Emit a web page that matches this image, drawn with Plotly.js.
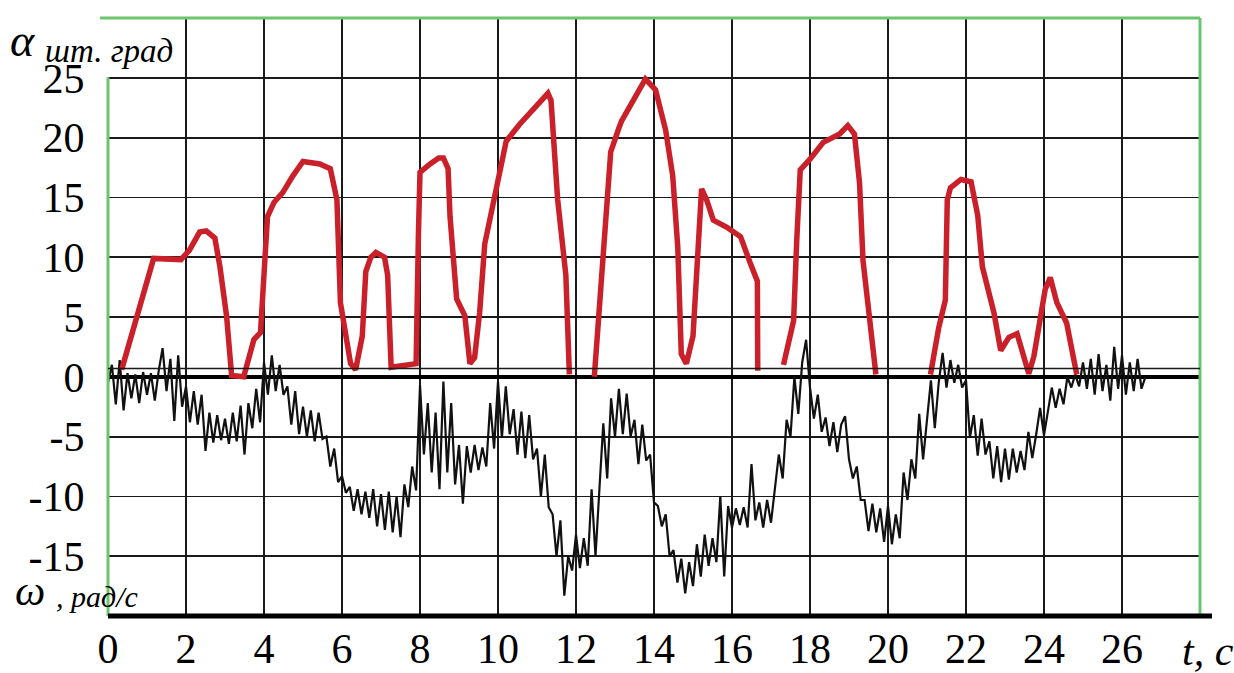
<!DOCTYPE html>
<html>
<head>
<meta charset="utf-8">
<script src="https://cdn.plot.ly/plotly-3.0.1.min.js"></script>
<style>html,body{margin:0;padding:0;background:#fff;}#chart{width:1234px;height:673px;}</style>
</head>
<body>
<div id="chart"></div>
<script>
// Time axis ticks (s)
const tTicks = [0,2,4,6,8,10,12,14,16,18,20,22,24,26];
const tTickText = ["0","2","4","6","8","10","12","14","16","18","20","22","24","26"];
const yTicks = [-15,-10,-5,0,5,10,15,20,25];
const yTickText = ["-15","-10","-5","0","5","10","15","20","25"];

// Red series: alpha_sht, deg (null = pen lifted)
const tAlpha = [0.35,0.78,1.17,1.87,2.09,2.35,2.52,2.74,2.87,3.04,3.17,3.48,3.74,3.91,4.0,4.09,4.26,4.48,4.74,5.0,5.43,5.70,5.87,5.96,6.22,6.35,6.52,6.61,6.74,6.87,7.09,7.17,7.26,7.7,7.9,7.96,8.0,8.26,8.48,8.6,8.72,8.77,8.94,9.15,9.28,9.4,9.53,9.66,9.87,10.04,10.21,10.55,10.98,11.28,11.36,11.53,11.74,11.83,
  12.1,
  12.47,12.6,12.77,12.89,13.1,13.17,13.52,13.78,14.04,14.3,14.48,14.61,14.7,14.83,15.0,15.13,15.22,15.35,15.52,15.87,16.22,16.48,16.65,16.66,
  17.0,
  17.32,17.58,17.66,17.75,18.0,18.34,18.76,18.97,19.14,19.27,19.36,19.53,19.69,
  20.4,
  21.09,21.3,21.47,21.52,21.6,21.87,22.13,22.3,22.42,22.72,22.89,23.1,23.31,23.44,23.61,23.74,23.91,24.03,24.16,24.33,24.58,24.84];
const alpha = [0.6,5.6,9.9,9.8,10.6,12.1,12.2,11.6,9.2,5.1,0.1,0.0,3.1,3.7,9.2,13.4,14.6,15.4,16.8,18.0,17.8,17.4,14.8,6.2,1.1,0.6,3.4,8.8,10.0,10.4,10.0,8.5,0.8,1.0,1.1,12.0,17.1,17.8,18.3,18.3,17.4,13.4,6.5,5.1,1.1,1.6,5.4,11.1,14.3,17.1,19.7,21.1,22.6,23.7,23.1,14.8,8.5,0.2,
  null,
  0.0,5.7,14.3,18.8,20.8,21.4,23.4,24.9,24.0,20.6,16.8,10.8,1.9,1.1,3.4,10.5,15.7,14.8,13.1,12.5,11.7,9.4,8.0,0.5,
  null,
  1.0,4.7,11.4,17.3,18.2,19.6,20.3,21.0,20.3,16.2,9.7,4.7,0.2,
  null,
  0.2,4.1,6.4,14.8,15.8,16.5,16.3,13.5,9.2,5.3,2.2,3.3,3.6,2.2,0.25,1.7,5.3,7.3,8.3,6.2,4.5,0.2];

// Black series: omega, rad/s (read at 0.1 s steps, band extremes)
const tOmega = [0.0,0.1,0.2,0.3,0.4,0.5,0.6,0.7,0.8,0.9,1.0,1.1,1.2,1.3,1.4,1.5,1.6,1.7,1.8,1.9,
  2.0,2.1,2.2,2.3,2.4,2.5,2.6,2.7,2.8,2.9,3.0,3.1,3.2,3.3,3.4,3.5,3.6,3.7,3.8,3.9,
  4.0,4.1,4.2,4.3,4.4,4.5,4.6,4.7,4.8,4.9,5.0,5.1,5.2,5.3,5.4,5.5,5.6,5.7,5.8,5.9,
  6.0,6.1,6.2,6.3,6.4,6.5,6.6,6.7,6.8,6.9,7.0,7.1,7.2,7.3,7.4,7.5,7.6,7.7,7.8,7.9,
  8.0,8.1,8.2,8.3,8.4,8.5,8.6,8.7,8.8,8.9,9.0,9.1,9.2,9.3,9.4,9.5,9.6,9.7,9.8,9.9,
  10.0,10.1,10.2,10.3,10.4,10.5,10.6,10.7,10.8,10.9,11.0,11.1,11.2,11.3,11.4,11.5,11.6,11.7,11.8,11.9,
  12.0,12.1,12.2,12.3,12.4,12.5,12.6,12.7,12.8,12.9,13.0,13.1,13.2,13.3,13.4,13.5,13.6,13.7,13.8,13.9,
  14.0,14.1,14.2,14.3,14.4,14.5,14.6,14.7,14.8,14.9,15.0,15.1,15.2,15.3,15.4,15.5,15.6,15.7,15.8,15.9,
  16.0,16.1,16.2,16.3,16.4,16.5,16.6,16.7,16.8,16.9,17.0,17.1,17.2,17.3,17.4,17.5,17.6,17.7,17.8,17.9,
  18.0,18.1,18.2,18.3,18.4,18.5,18.6,18.7,18.8,18.9,19.0,19.1,19.2,19.3,19.4,19.5,19.6,19.7,19.8,19.9,
  20.0,20.1,20.2,20.3,20.4,20.5,20.6,20.7,20.8,20.9,21.0,21.1,21.2,21.3,21.4,21.5,21.6,21.7,21.8,21.9,
  22.0,22.1,22.2,22.3,22.4,22.5,22.6,22.7,22.8,22.9,23.0,23.1,23.2,23.3,23.4,23.5,23.6,23.7,23.8,23.9,
  24.0,24.1,24.2,24.3,24.4,24.5,24.6,24.7,24.8,24.9,25.0,25.1,25.2,25.3,25.4,25.5,25.6,25.7,25.8,25.9,
  26.0,26.1,26.2,26.3,26.4,26.5,26.6];
const omega = [-0.5,1.0,-2.3,1.4,-2.8,0.3,-1.8,0.2,-2.2,0.4,-1.5,0.3,-2.0,0.5,2.4,-1.2,1.5,-3.7,1.8,-2.5,
  -0.8,-3.8,-1.2,-4.0,-1.5,-6.2,-3.0,-5.5,-3.2,-5.3,-3.5,-5.6,-3.0,-5.4,-2.4,-6.5,-2.2,-4.3,-1.0,-3.8,
  1.2,-1.5,1.8,-1.2,1.0,-1.5,-0.8,-4.0,-1.2,-4.8,-2.5,-5.0,-2.8,-5.4,-3.0,-5.2,-5.0,-7.5,-6.0,-8.8,
  -8.3,-9.7,-9.2,-11.2,-9.4,-11.5,-9.6,-11.8,-9.4,-12.5,-9.8,-12.8,-9.6,-13.0,-10.0,-13.4,-9.0,-10.9,-7.5,-9.5,
  -0.7,-6.5,-2.2,-8.0,-3.0,-9.4,-0.4,-8.0,-2.2,-9.0,-5.7,-10.6,-5.8,-8.0,-5.7,-7.8,-5.9,-7.5,-2.2,-6.0,
  -0.4,-5.1,-0.8,-4.8,-2.7,-6.5,-2.9,-6.8,-3.2,-6.9,-6.0,-10.0,-6.5,-10.9,-11.5,-15.0,-12.0,-18.3,-15.0,-16.2,
  -13.2,-16.0,-13.5,-15.8,-9.4,-15.0,-9.4,-3.9,-8.5,-1.8,-5.0,-1.0,-4.8,-1.4,-5.0,-3.6,-7.3,-4.0,-7.0,-6.5,
  -10.5,-10.8,-12.5,-11.5,-15.0,-14.5,-17.2,-15.2,-18.1,-15.5,-17.5,-14.0,-16.7,-13.2,-15.8,-13.5,-15.5,-10.0,-16.7,-10.8,
  -12.6,-11.0,-12.4,-10.9,-12.6,-7.3,-12.0,-10.5,-12.6,-10.3,-12.2,-9.4,-6.5,-8.5,-3.6,-5.0,0.0,-3.1,1.2,3.1,
  -0.9,-3.5,-1.5,-4.6,-3.4,-5.8,-3.8,-6.3,-4.0,-3.3,-6.9,-8.5,-7.5,-10.3,-10.3,-12.9,-10.6,-13.0,-11.0,-13.8,
  -10.8,-14.0,-11.5,-13.5,-8.0,-10.3,-6.9,-8.5,-3.1,-6.9,-3.5,-0.3,-4.3,-0.5,2.0,-0.9,1.4,-0.5,1.0,-0.9,
  -0.3,-5.1,-3.2,-6.6,-3.5,-6.5,-5.4,-8.5,-5.8,-8.8,-6.0,-8.6,-6.0,-8.0,-6.2,-7.8,-4.6,-6.8,-4.8,-2.6,
  -4.9,-2.8,-0.9,-2.6,-1.0,-2.3,0.0,-0.9,0.2,-0.8,1.2,-1.0,1.5,-1.5,1.9,-1.2,1.0,-2.0,2.5,-1.0,
  1.8,-1.5,1.2,-1.2,1.5,-1.0,0.0];

const serif = "Liberation Serif, Times New Roman, serif";
const green = "#6cc46c";

const traces = [
  {x: tOmega, y: omega, type: "scatter", mode: "lines", line: {color: "#111", width: 2.2}, hoverinfo: "skip"},
  {x: tAlpha, y: alpha, type: "scatter", mode: "lines", connectgaps: false, line: {color: "#c9202a", width: 5.5}, hoverinfo: "skip"},
  // invisible trace on overlay axis to host vertical grid
  {x: [0], y: [0], xaxis: "x2", type: "scatter", mode: "markers", marker: {opacity: 0}, hoverinfo: "skip"}
];

const layout = {
  width: 1234, height: 673,
  margin: {l: 108, r: 34, t: 18, b: 57},
  paper_bgcolor: "#ffffff", plot_bgcolor: "#ffffff",
  showlegend: false,
  xaxis: {range: [0, 28], tickvals: tTicks, ticktext: tTickText, showgrid: false, zeroline: false, showline: false,
    ticks: "", ticklabelstandoff: 4,
    tickfont: {family: serif, size: 42, color: "#000"}},
  xaxis2: {range: [0, 28], overlaying: "x", tickvals: tTicks.slice(1), showticklabels: false, showgrid: true,
    gridcolor: "#1a1a1a", gridwidth: 1.8, zeroline: false, showline: false, ticks: ""},
  yaxis: {range: [-20, 30], tickvals: yTicks, ticktext: yTickText, showgrid: true, gridcolor: "#1a1a1a", gridwidth: 1.8,
    zeroline: true, zerolinecolor: "#000", zerolinewidth: 4, showline: false,
    ticks: "outside", ticklen: 14, tickcolor: "rgba(0,0,0,0)",
    tickfont: {family: serif, size: 42, color: "#000"}},
  shapes: [
    {type: "line", xref: "paper", yref: "paper", x0: -0.0073, x1: 1.0, y0: 1, y1: 1, line: {color: green, width: 3}},
    {type: "line", xref: "paper", yref: "paper", x0: 0, x1: 0, y0: 0, y1: 0.901, line: {color: green, width: 3}},
    {type: "line", xref: "paper", yref: "paper", x0: 1, x1: 1, y0: 0, y1: 1, line: {color: green, width: 3}},
    {type: "line", xref: "paper", yref: "y", x0: 0, x1: 1, y0: 0.7, y1: 0.7, line: {color: "#1a1a1a", width: 1.5}},
    {type: "line", xref: "paper", yref: "paper", x0: 0, x1: 1.011, y0: 0, y1: 0, line: {color: "#000", width: 5}}
  ],
  annotations: [
    {xref: "paper", yref: "paper", x: -0.0916, y: 0.963, xanchor: "left", yanchor: "middle", showarrow: false,
      text: "α", font: {family: serif, size: 46, style: "italic", color: "#000"}},
    {xref: "paper", yref: "paper", x: -0.0595, y: 0.945, xanchor: "left", yanchor: "middle", showarrow: false,
      text: "шт. град", font: {family: serif, size: 33, style: "italic", color: "#000"}},
    {xref: "paper", yref: "paper", x: -0.087, y: 0.043, xanchor: "left", yanchor: "middle", showarrow: false,
      text: "ω", font: {family: serif, size: 43, style: "italic", color: "#000"}},
    {xref: "paper", yref: "paper", x: -0.049, y: 0.032, xanchor: "left", yanchor: "middle", showarrow: false,
      text: ", рад/с", font: {family: serif, size: 30, style: "italic", color: "#000"}},
    {xref: "paper", yref: "paper", x: 0.9817, y: -0.058, xanchor: "left", yanchor: "middle", showarrow: false,
      text: "t, c", font: {family: serif, size: 42, style: "italic", color: "#000"}}
  ]
};

Plotly.newPlot("chart", traces, layout, {staticPlot: true, displayModeBar: false});
</script>
</body>
</html>
